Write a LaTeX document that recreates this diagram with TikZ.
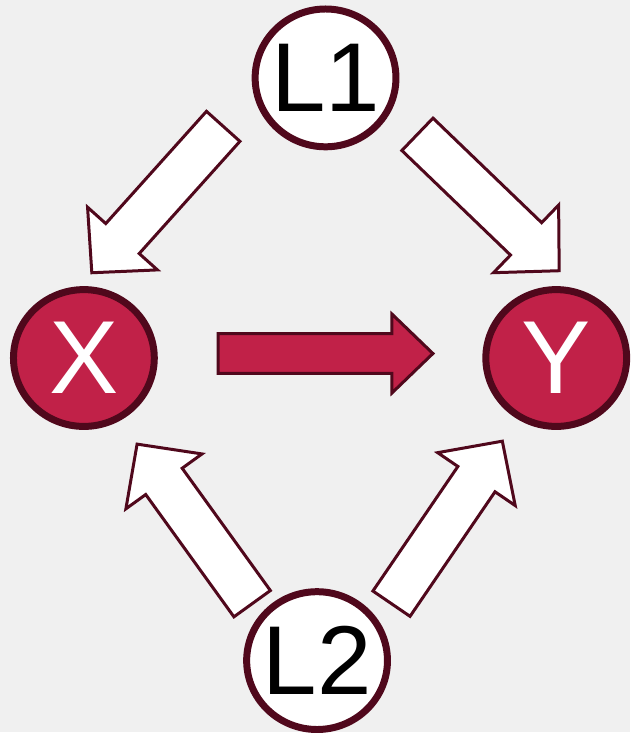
\documentclass[tikz,border=0pt]{standalone}
\usepackage{fontspec}
\setmainfont{Liberation Sans}
\usetikzlibrary{shapes.geometric}

\definecolor{bgray}{HTML}{F0F0F0}
\definecolor{wine}{RGB}{80,8,28}
\definecolor{crimson}{RGB}{193,33,72}

% block arrow pointing along +x: length/shaft/head width/head length
\tikzset{pics/fatarrow/.style args={#1/#2/#3/#4}{code={
  \path[pic actions] (0,-#2/2) -- ({#1-#4},-#2/2) -- ({#1-#4},-#3/2) -- (#1,0)
    -- ({#1-#4},#3/2) -- ({#1-#4},#2/2) -- (0,#2/2) -- cycle;
}}}

\begin{document}
\begin{tikzpicture}[x=1pt, y=1pt]
  \tikzstyle{latent}=[ellipse, draw=wine, line width=7pt, fill=white, minimum width=141pt, minimum height=138pt, inner xsep=-60pt, inner ysep=0pt, font=\fontsize{98}{98}\selectfont]
  \tikzstyle{obs}=[ellipse, draw=wine, line width=7pt, fill=crimson, text=white, minimum width=141pt, minimum height=137pt, inner xsep=-60pt, inner ysep=0pt, font=\fontsize{104}{104}\selectfont]
  \tikzstyle{hollow}=[draw=wine, line width=3pt, fill=white, line join=miter]
  \tikzstyle{solid}=[draw=wine, line width=3pt, fill=crimson, line join=miter]

  % fondo
  \fill[bgray] (0,0) rectangle (631,-733);

  % variaveis
  \node[latent] (l1) at (326,-78) {L1};
  \node[obs] (x) at (84,-358.5) {X};
  \node[obs] (y) at (557,-358.5) {Y};
  \node[latent] (l2) at (317.5,-661.5) {L2};

  % setas de confusao
  \pic[hollow, rotate=228.1] at (223.5,-126.5) {fatarrow=197/45/94/46};
  \pic[hollow, rotate=-43.9] at (418,-134.5) {fatarrow=197/45/94/46};
  \pic[hollow, rotate=125.8] at (252.5,-604.5) {fatarrow=197/45/94/46};
  \pic[hollow, rotate=55.7] at (392,-604.5) {fatarrow=197/45/94/46};

  % efeito causal
  \pic[solid] at (218.5,-354) {fatarrow=215/40/79/41};
\end{tikzpicture}
\end{document}
